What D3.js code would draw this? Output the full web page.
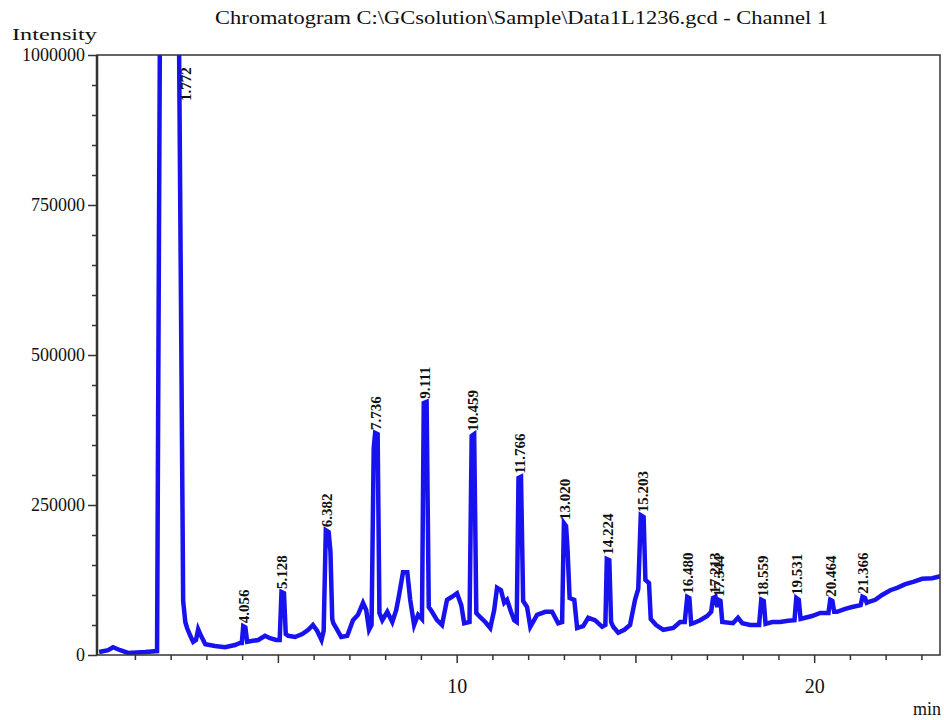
<!DOCTYPE html>
<html>
<head>
<meta charset="utf-8">
<script src="https://cdn.jsdelivr.net/npm/d3@7"></script>
<style>
body { margin: 0; background: #fff; }
text { font-family: "Liberation Serif", "Times New Roman", serif; fill: #111; }
</style>
</head>
<body>
<div id="graph"></div>
<script>
// chromatogram trace (min, intensity)
var traceTime = [0.00, 0.25, 0.39, 0.59, 0.81, 1.29, 1.62, 1.72, 2.00, 2.20, 2.29, 2.35, 2.41, 2.46, 2.55, 2.63,
  2.71, 2.77, 2.85, 2.97, 3.24, 3.52, 3.80, 3.94, 3.99, 4.03, 4.09, 4.14, 4.22, 4.45, 4.64, 4.78, 4.95,
  5.05, 5.10, 5.17, 5.22, 5.29, 5.48, 5.68, 5.85, 5.98, 6.10, 6.22, 6.28, 6.34, 6.42, 6.47, 6.52, 6.55,
  6.66, 6.77, 6.94, 7.10, 7.24, 7.38, 7.47, 7.55, 7.62, 7.68, 7.72, 7.79, 7.84, 7.92, 8.06, 8.20, 8.31,
  8.39, 8.50, 8.62, 8.70, 8.81, 8.92, 9.03, 9.08, 9.16, 9.22, 9.31, 9.45, 9.59, 9.73, 9.87, 10.01, 10.13,
  10.21, 10.36, 10.42, 10.49, 10.55, 10.66, 10.80, 10.94, 11.05, 11.13, 11.24, 11.33, 11.41, 11.52, 11.61,
  11.68, 11.73, 11.80, 11.86, 11.97, 12.06, 12.25, 12.48, 12.67, 12.84, 12.95, 13.00, 13.06, 13.10, 13.16,
  13.29, 13.37, 13.54, 13.68, 13.87, 14.07, 14.16, 14.20, 14.27, 14.32, 14.38, 14.52, 14.69, 14.85, 14.99,
  15.08, 15.15, 15.23, 15.28, 15.38, 15.43, 15.58, 15.78, 16.06, 16.25, 16.38, 16.45, 16.51, 16.56, 16.62,
  16.81, 17.01, 17.12, 17.17, 17.24, 17.29, 17.32, 17.38, 17.43, 17.73, 17.87, 17.99, 18.21, 18.46, 18.52,
  18.59, 18.64, 18.83, 19.05, 19.27, 19.45, 19.50, 19.57, 19.62, 19.75, 19.94, 20.17, 20.40, 20.45, 20.51,
  20.56, 20.64, 20.87, 21.06, 21.30, 21.35, 21.42, 21.47, 21.51, 21.71, 21.90, 22.13, 22.32, 22.55, 22.77,
  23.02, 23.30, 23.58];
var traceIntensity = [5000, 8000, 13000, 8000, 3500, 5000, 6500, 1300000, 3000000, 1300000, 580000, 90000, 55000, 45000, 32000, 21700,
  25000, 43000, 32000, 18000, 15000, 13000, 16700, 20000, 20000, 48000, 46000, 22000, 23000, 25000, 32000, 28000, 25000,
  25000, 105000, 103000, 35000, 32000, 30000, 35000, 42000, 50000, 40000, 25000, 40000, 208000, 205000, 172000, 60000, 53000,
  42000, 30000, 32000, 58000, 67000, 87000, 75000, 42000, 50000, 345000, 370000, 368000, 70000, 58000, 72000, 55000, 75000,
  100000, 138000, 138000, 92000, 50000, 67000, 60000, 420000, 422000, 80000, 72000, 58000, 50000, 92000, 97000, 103000, 83000,
  53000, 55000, 365000, 368000, 70000, 63000, 55000, 45000, 75000, 112000, 108000, 87000, 92000, 72000, 58000,
  55000, 295000, 297000, 90000, 80000, 47000, 67000, 72000, 72000, 53000, 55000, 220000, 215000, 178000, 95000,
  92000, 45000, 48000, 62000, 58000, 47000, 50000, 160000, 158000, 55000, 47000, 37000, 42000, 50000, 92000,
  110000, 233000, 230000, 125000, 120000, 60000, 50000, 42000, 45000, 55000, 55000, 97000, 95000, 52000, 53000,
  58000, 65000, 72000, 95000, 97000, 80000, 92000, 90000, 55000, 53000, 62000, 53000, 50000, 50000, 92000,
  90000, 52000, 55000, 55000, 57000, 58000, 95000, 92000, 60000, 62000, 65000, 70000, 70000, 92000, 90000,
  72000, 72000, 77000, 80000, 83000, 97000, 95000, 87000, 88000, 92000, 100000, 108000, 112000, 118000, 122000,
  127000, 128000, 132000];

// labelled peaks
var peakTimes = [1.772, 4.056, 5.128, 6.382, 7.736, 9.111, 10.459, 11.766, 13.020, 14.224, 15.203, 16.480, 17.213, 17.344, 18.559, 19.531, 20.464, 21.366];
var peakLabels = ["1.772", "4.056", "5.128", "6.382", "7.736", "9.111", "10.459", "11.766", "13.020", "14.224", "15.203", "16.480", "17.213", "17.344", "18.559", "19.531", "20.464", "21.366"];
var peakHeights = [3000000, 48000, 105000, 208000, 370000, 422000, 368000, 297000, 220000, 162000, 233000, 97000, 97000, 92000, 92000, 95000, 92000, 97000];

var yTickValues = [0, 250000, 500000, 750000, 1000000];
var xTickLabels = [10, 20];

var width = 944, height = 720;
var margin = {top: 55, right: 4, bottom: 65, left: 97};

var svg = d3.select("#graph").append("svg")
    .attr("width", width)
    .attr("height", height);

var x = d3.scaleLinear()
    .domain([-0.06, 23.52])
    .range([margin.left, width - margin.right]);

var y = d3.scaleLinear()
    .domain([0, 1000000])
    .range([height - margin.bottom, margin.top]);

// title + axis names
svg.append("text")
    .attr("x", 215).attr("y", 24)
    .attr("textLength", 613).attr("lengthAdjust", "spacingAndGlyphs")
    .style("font-size", "18px")
    .text("Chromatogram C:\\GCsolution\\Sample\\Data1L1236.gcd - Channel 1");

svg.append("text")
    .attr("x", 12).attr("y", 40)
    .attr("textLength", 85).attr("lengthAdjust", "spacingAndGlyphs")
    .style("font-size", "17px")
    .text("Intensity");

svg.append("text")
    .attr("x", 941).attr("y", 715)
    .style("text-anchor", "end")
    .style("font-size", "18px")
    .text("min");

// trace
svg.append("clipPath").attr("id", "plotclip")
  .append("rect")
    .attr("x", margin.left).attr("y", margin.top)
    .attr("width", width - margin.right - margin.left)
    .attr("height", height - margin.bottom - margin.top);

var line = d3.line()
    .x(function(d, i) { return x(traceTime[i]); })
    .y(function(d) { return y(d); });

svg.append("path")
    .datum(traceIntensity)
    .attr("clip-path", "url(#plotclip)")
    .attr("fill", "none")
    .attr("stroke", "#1712ee")
    .attr("stroke-width", 4.5)
    .attr("stroke-linejoin", "miter")
    .attr("d", line);

// frame
svg.append("rect")
    .attr("x", margin.left).attr("y", margin.top)
    .attr("width", width - margin.right - margin.left)
    .attr("height", height - margin.bottom - margin.top)
    .attr("fill", "none")
    .attr("stroke", "#333")
    .attr("stroke-width", 1.5);

svg.append("line")
    .attr("x1", margin.left).attr("x2", margin.left)
    .attr("y1", margin.top).attr("y2", height - margin.bottom)
    .attr("stroke", "#333").attr("stroke-width", 2.5);

// y axis
var yMinor = d3.range(50000, 1000000, 50000).filter(function(v) { return yTickValues.indexOf(v) < 0; });
svg.append("g")
    .attr("class", "y minor")
    .attr("transform", "translate(" + margin.left + ",0)")
    .call(d3.axisLeft(y).tickValues(yMinor).tickSize(5).tickFormat(""))
    .call(function(g) { g.select(".domain").remove(); });

svg.append("g")
    .attr("class", "y axis")
    .attr("transform", "translate(" + margin.left + ",0)")
    .call(d3.axisLeft(y).tickValues(yTickValues).tickSize(9).tickPadding(3).tickFormat(d3.format("d")))
    .call(function(g) { g.select(".domain").remove(); })
    .call(function(g) {
      g.selectAll("line").attr("stroke", "#333").attr("stroke-width", 1.5);
      g.selectAll("text").style("font-size", "18px").style("font-family", "Liberation Serif").attr("fill", "#111");
    });

svg.selectAll(".y.minor line").attr("stroke", "#333").attr("stroke-width", 1.5);

// x axis
var xMinor = d3.range(1, 24).filter(function(v) { return v % 5 !== 0; });
svg.append("g")
    .attr("class", "x minor")
    .attr("transform", "translate(0," + (height - margin.bottom) + ")")
    .call(d3.axisBottom(x).tickValues(xMinor).tickSize(5).tickFormat(""))
    .call(function(g) { g.select(".domain").remove(); g.selectAll("line").attr("stroke", "#333").attr("stroke-width", 1.5); });

svg.append("g")
    .attr("class", "x axis")
    .attr("transform", "translate(0," + (height - margin.bottom) + ")")
    .call(d3.axisBottom(x).tickValues([5, 10, 15, 20]).tickSize(8).tickPadding(16)
      .tickFormat(function(d) { return xTickLabels.indexOf(d) >= 0 ? d : ""; }))
    .call(function(g) {
      g.select(".domain").remove();
      g.selectAll("line").attr("stroke", "#333").attr("stroke-width", 1.5);
      g.selectAll("text").style("font-size", "20px").style("font-family", "Liberation Serif").attr("fill", "#111");
    });

// peak labels
var yMax = y.domain()[1];
svg.selectAll(".peak")
    .data(peakTimes)
    .enter().append("text")
    .attr("class", "peak")
    .attr("transform", function(d, i) {
      var px = x(d) + 5, py = y(peakHeights[i]) - 3;
      if (peakHeights[i] > yMax) { px = x(d) + 29; py = y(yMax) + 46; }
      return "translate(" + px + "," + py + ") rotate(-90)";
    })
    .style("font-size", "15px")
    .style("font-weight", "bold")
    .text(function(d, i) { return peakLabels[i]; });
</script>
</body>
</html>
